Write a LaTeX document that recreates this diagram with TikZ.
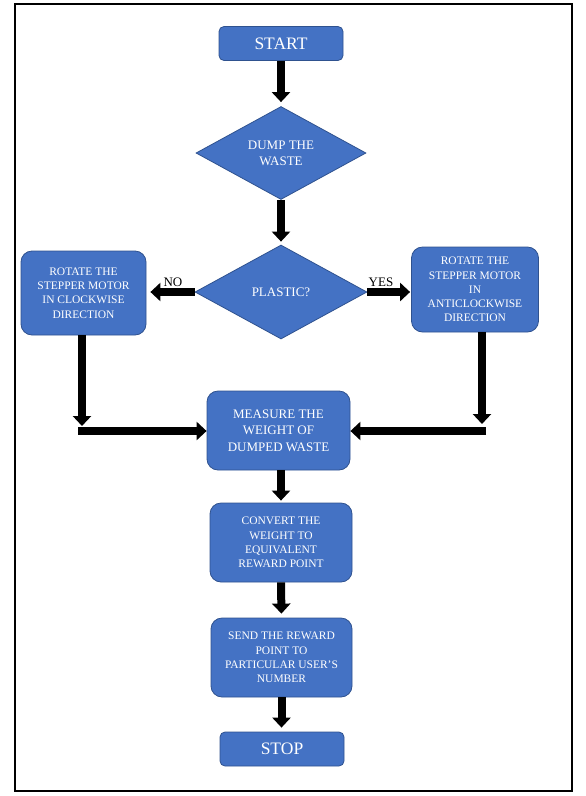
\documentclass[tikz,border=0pt]{standalone}
\usepackage{fontspec}
\setmainfont{Liberation Serif}
\usetikzlibrary{shapes.geometric,arrows.meta}
\definecolor{boxblue}{HTML}{4472C4}
\definecolor{boxedge}{HTML}{2F528F}
\tikzset{
  box/.style={draw=boxedge, fill=boxblue, line width=0.8pt, text=white, align=center, inner sep=0pt},
  rbox/.style={box, rounded corners=11pt, font=\fontsize{11.5}{14.2}\selectfont},
  term/.style={box, rounded corners=5pt, font=\fontsize{17.5}{20}\selectfont},
  dec/.style={box, diamond, shape aspect=1.83, font=\fontsize{13}{16}\selectfont},
  arr/.style={line width=8pt, -{Triangle[width=18pt,length=10pt]}},
  bar/.style={line width=8pt},
  lbl/.style={font=\fontsize{13}{15}\selectfont, inner sep=0pt}
}
\begin{document}
\begin{tikzpicture}[x=1pt,y=-1pt]
\useasboundingbox (0,0) rectangle (586,796);
\draw[line width=2pt] (15,4) rectangle (572,791);

\node[term, minimum width=124pt, minimum height=34pt] (start) at (281,43.5) {START};
\node[dec, minimum width=170pt, minimum height=93pt] (dump) at (281,153) {DUMP THE\\WASTE};
\node[dec, minimum width=172pt, minimum height=94pt] (plastic) at (281,292) {PLASTIC?};
\node[rbox, minimum width=125pt, minimum height=84pt] (left) at (83.5,293) {ROTATE THE\\STEPPER MOTOR\\IN CLOCKWISE\\DIRECTION};
\node[rbox, minimum width=127pt, minimum height=85pt] (right) at (475,289.5) {ROTATE THE\\STEPPER MOTOR\\IN\\ANTICLOCKWISE\\DIRECTION};
\node[box, rounded corners=11pt, font=\fontsize{13}{16.7}\selectfont, minimum width=143pt, minimum height=79pt] (measure) at (278.5,430.5) {MEASURE THE\\WEIGHT OF\\DUMPED WASTE};
\node[rbox, minimum width=142pt, minimum height=79pt] (convert) at (281,542.5) {CONVERT THE\\WEIGHT TO\\EQUIVALENT\\REWARD POINT};
\node[rbox, minimum width=141pt, minimum height=79pt] (send) at (281.5,657.5) {SEND THE REWARD\\POINT TO\\PARTICULAR USER’S\\NUMBER};
\node[term, minimum width=124pt, minimum height=34pt] (stop) at (282,749) {STOP};

\node[lbl] (no) at (173,282) {NO};
\node[lbl] (yes) at (381,282) {YES};

\coordinate (lc) at (82,426);
\coordinate (lh) at (78,431);
\coordinate (rc) at (482,424);
\coordinate (rh) at (486,431);

\draw[arr, shorten >=4pt] (start.south) -- (dump.north);
\draw[arr, shorten >=3pt] (dump.south) -- (plastic.north);
\draw[arr, shorten >=4pt] (plastic.west) -- (plastic.west -| left.east);
\draw[arr, shorten >=1pt] (plastic.east) -- (plastic.east -| right.west);
\draw[arr] (left.south -| lc) -- (lc);
\draw[arr] (right.south -| rc) -- (rc);
\draw[arr] (lh) -- (lh -| measure.west);
\draw[arr] (rh) -- (rh -| measure.east);
\draw[arr, shorten >=2pt] (measure.south -| convert) -- (convert.north);
\draw[arr, shorten >=4pt] (convert.south) -- (send.north);
\draw[arr, shorten >=4pt] (send.south) -- (send.south |- stop.north);
\end{tikzpicture}
\end{document}
